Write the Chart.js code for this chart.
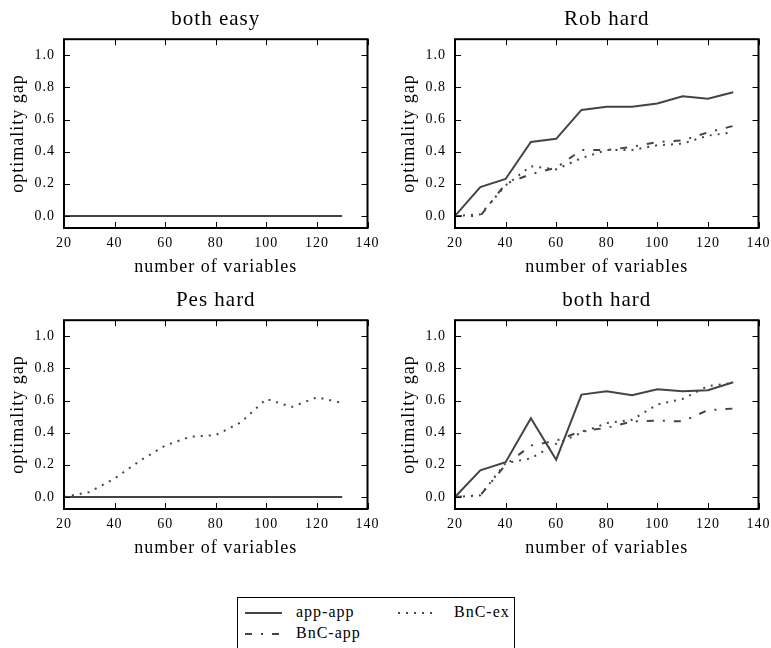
<!DOCTYPE html>
<html>
<head>
<meta charset="utf-8">
<script src="https://cdn.jsdelivr.net/npm/chart.js@4.4.0/dist/chart.umd.min.js"></script>
<style>
body { margin:0; background:#fff; width:771px; height:648px; overflow:hidden; position:relative; }
.panel { position:absolute; width:385px; height:290px; }
#legend { position:absolute; left:237px; top:597px; width:278px; height:60px; border:1.5px solid #000; box-sizing:border-box; font-family:"Liberation Serif", serif; font-size:16px; letter-spacing:1px; color:#000; }
#legend .txt { position:absolute; line-height:18px; }
#legend svg { position:absolute; }
</style>
</head>
<body>
<div class="panel" style="left:0;top:0"><canvas id="c0" width="385" height="290"></canvas></div>
<div class="panel" style="left:391px;top:0"><canvas id="c1" width="385" height="290"></canvas></div>
<div class="panel" style="left:0;top:281px"><canvas id="c2" width="385" height="290"></canvas></div>
<div class="panel" style="left:391px;top:281px"><canvas id="c3" width="385" height="290"></canvas></div>
<div id="legend"></div>
<script>
// data
var xValues = [20, 30, 40, 50, 60, 70, 80, 90, 100, 110, 120, 130];
var xTicks = [20, 40, 60, 80, 100, 120, 140];
var yTicks = [0, 0.2, 0.4, 0.6, 0.8, 1.0];
var seriesNames = ['app-app', 'BnC-app', 'BnC-ex'];
var panelTitles = ['both easy', 'Rob hard', 'Pes hard', 'both hard'];

var easyAppApp = [0, 0, 0, 0, 0, 0, 0, 0, 0, 0, 0, 0];
var easyBncApp = [0, 0, 0, 0, 0, 0, 0, 0, 0, 0, 0, 0];
var easyBncEx  = [0, 0, 0, 0, 0, 0, 0, 0, 0, 0, 0, 0];

var robAppApp = [0, 0.18, 0.23, 0.46, 0.48, 0.66, 0.68, 0.68, 0.70, 0.745, 0.73, 0.77];
var robBncApp = [0, 0.0, 0.2, 0.26, 0.30, 0.41, 0.41, 0.43, 0.46, 0.47, 0.52, 0.56];
var robBncEx  = [0, 0.01, 0.19, 0.31, 0.29, 0.36, 0.41, 0.41, 0.44, 0.45, 0.50, 0.52];

var pesAppApp = [0, 0, 0, 0, 0, 0, 0, 0, 0, 0, 0, 0];
var pesBncApp = [0, 0, 0, 0, 0, 0, 0, 0, 0, 0, 0, 0];
var pesBncEx  = [0, 0.03, 0.115, 0.225, 0.32, 0.375, 0.385, 0.465, 0.61, 0.56, 0.62, 0.585];

var bothAppApp = [0, 0.166, 0.216, 0.49, 0.232, 0.637, 0.658, 0.633, 0.67, 0.658, 0.664, 0.714];
var bothBncApp = [0, 0.01, 0.2, 0.32, 0.35, 0.41, 0.43, 0.47, 0.475, 0.47, 0.54, 0.55];
var bothBncEx  = [0, 0.01, 0.21, 0.24, 0.33, 0.40, 0.46, 0.48, 0.575, 0.61, 0.69, 0.71];

var panelSeries = [
    [easyAppApp, easyBncApp, easyBncEx],
    [robAppApp, robBncApp, robBncEx],
    [pesAppApp, pesBncApp, pesBncEx],
    [bothAppApp, bothBncApp, bothBncEx]
];

var FONT = '"Liberation Serif", "Times New Roman", serif';
var LINE = '#444';
var dashes = [[], [7, 9, 2, 9], [2, 6]];

// inward ticks + black frame like the original
var panelFrame = {
    id: 'panelFrame',
    beforeDraw: function(chart) {
        chart.ctx.letterSpacing = '1px';
    },
    afterDatasetsDraw: function(chart) {
        var ctx = chart.ctx, a = chart.chartArea;
        var xs = chart.scales.x, ys = chart.scales.y;
        ctx.save();
        ctx.strokeStyle = '#000';
        ctx.lineWidth = 1;
        ctx.beginPath();
        xTicks.forEach(function(v) {
            var px = Math.round(xs.getPixelForValue(v)) + 0.5;
            ctx.moveTo(px, a.top); ctx.lineTo(px, a.top + 6);
            ctx.moveTo(px, a.bottom); ctx.lineTo(px, a.bottom - 6);
        });
        yTicks.forEach(function(v) {
            var py = Math.round(ys.getPixelForValue(v)) + 0.5;
            ctx.moveTo(a.left, py); ctx.lineTo(a.left + 6, py);
            ctx.moveTo(a.right, py); ctx.lineTo(a.right - 6, py);
        });
        ctx.stroke();
        ctx.lineWidth = 2;
        ctx.strokeRect(a.left, a.top, a.right - a.left, a.bottom - a.top);
        ctx.restore();
    }
};

function makePanel(i) {
    var datasets = panelSeries[i].map(function(vals, k) {
        return {
            label: seriesNames[k],
            data: xValues.map(function(x, j) { return {x: x, y: vals[j]}; }),
            borderColor: LINE,
            borderWidth: 2,
            borderDash: dashes[k],
            pointRadius: 0,
            tension: 0,
            fill: false
        };
    });
    new Chart(document.getElementById('c' + i), {
        type: 'line',
        data: {datasets: datasets},
        plugins: [panelFrame],
        options: {
            responsive: false,
            animation: false,
            layout: {padding: {left: 0, right: 17, top: 0, bottom: 0}},
            plugins: {
                legend: {display: false},
                tooltip: {enabled: false},
                title: {
                    display: true,
                    text: panelTitles[i],
                    fullSize: false,
                    color: '#000',
                    font: {family: FONT, size: 21, weight: 'normal'},
                    padding: {top: 7, bottom: 7}
                }
            },
            scales: {
                x: {
                    type: 'linear',
                    min: 20, max: 140,
                    afterBuildTicks: function(s) { s.ticks = xTicks.map(function(v) { return {value: v}; }); },
                    afterFit: function(s) { s.height = 62; },
                    grid: {display: false, drawTicks: false},
                    border: {display: false},
                    ticks: {color: '#000', font: {family: FONT, size: 14}, padding: 7, maxRotation: 0},
                    title: {display: true, text: 'number of variables', color: '#000',
                        font: {family: FONT, size: 18}, padding: {top: 0, bottom: 12}}
                },
                y: {
                    type: 'linear',
                    min: -0.075, max: 1.1,
                    afterBuildTicks: function(s) { s.ticks = yTicks.map(function(v) { return {value: v}; }); },
                    afterFit: function(s) { s.width = 64; },
                    grid: {display: false, drawTicks: false},
                    border: {display: false},
                    ticks: {color: '#000', font: {family: FONT, size: 14}, padding: 9,
                        callback: function(v) { return v.toFixed(1); }},
                    title: {display: true, text: 'optimality gap', color: '#000',
                        font: {family: FONT, size: 18}, padding: {top: 7, bottom: 0}}
                }
            }
        }
    });
}

for (var i = 0; i < 4; i++) makePanel(i);

// legend box, two columns filled column-wise like the original
var legendSlots = [[7, 15, 58], [7, 36, 58], [160, 15, 216]];
var legend = document.getElementById('legend');
seriesNames.forEach(function(name, k) {
    var s = legendSlots[k];
    var svg = document.createElementNS('http://www.w3.org/2000/svg', 'svg');
    svg.setAttribute('width', '40');
    svg.setAttribute('height', '4');
    svg.style.left = s[0] + 'px';
    svg.style.top = (s[1] - 2) + 'px';
    var ln = document.createElementNS('http://www.w3.org/2000/svg', 'line');
    ln.setAttribute('x1', '0'); ln.setAttribute('y1', '2');
    ln.setAttribute('x2', '37'); ln.setAttribute('y2', '2');
    ln.setAttribute('stroke', LINE);
    ln.setAttribute('stroke-width', '2');
    if (dashes[k].length) ln.setAttribute('stroke-dasharray', dashes[k].join(' '));
    svg.appendChild(ln);
    legend.appendChild(svg);
    var t = document.createElement('span');
    t.className = 'txt';
    t.textContent = name;
    t.style.left = s[2] + 'px';
    t.style.top = (s[1] - 10) + 'px';
    legend.appendChild(t);
});
</script>
</body>
</html>
